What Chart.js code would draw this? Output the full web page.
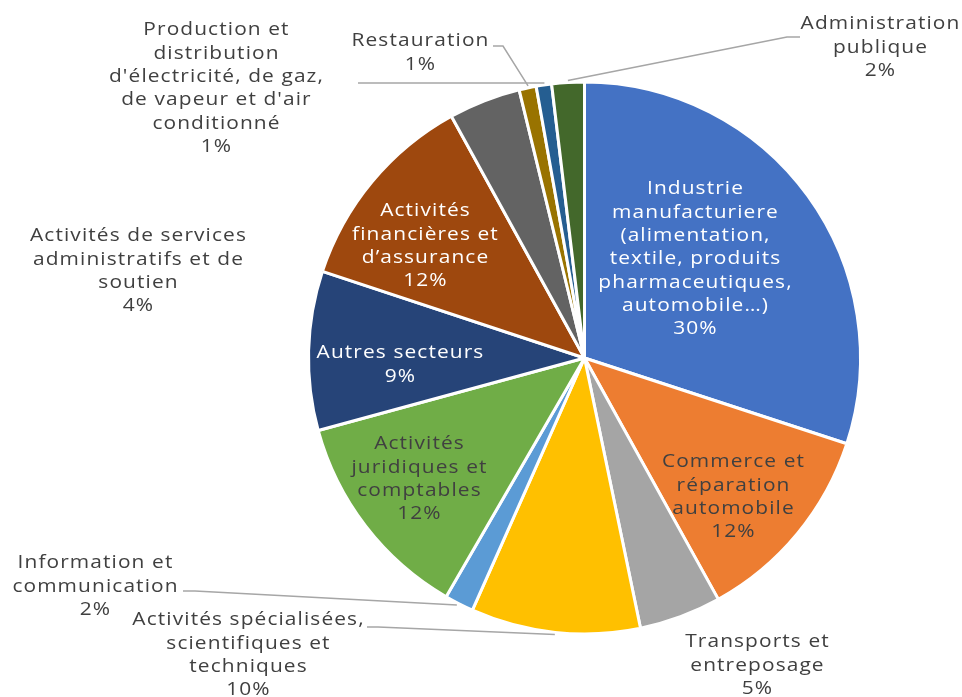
<!DOCTYPE html>
<html>
<head>
<meta charset="utf-8">
<script src="https://cdn.jsdelivr.net/npm/chart.js@4.4.1/dist/chart.umd.min.js"></script>
<style>
  html, body { margin: 0; padding: 0; background: #fff; }
  #wrap { width: 962px; height: 697px; }
</style>
</head>
<body>
<div id="wrap"><canvas id="idGraphiqueSecteurs"></canvas></div>
<script>
// categories, in drawing order (clockwise from 12 o'clock)
const secteurs = [
    'Industrie manufacturiere (alimentation, textile, produits pharmaceutiques, automobile…)',
    'Commerce et réparation automobile',
    'Transports et entreposage',
    'Activités spécialisées, scientifiques et techniques',
    'Information et communication',
    'Activités juridiques et comptables',
    'Autres secteurs',
    'Activités financières et d’assurance',
    'Activités de services administratifs et de soutien',
    "Production et distribution d'électricité, de gaz, de vapeur et d'air conditionné",
    'Restauration',
    'Administration publique'
];
const parts = [30.0, 11.9, 4.8, 9.9, 1.7, 12.4, 9.3, 11.9, 4.2, 1.0, 0.9, 1.9];
const couleurs = ['#4472C4', '#ED7D31', '#A5A5A5', '#FFC000', '#5B9BD5', '#70AD47',
                  '#264478', '#9E480E', '#636363', '#997300', '#255E91', '#43682B'];

// how each label is laid out (text lines, centre x, first line y, leader line)
const etiquettes = [
    { lignes: ['Industrie', 'manufacturiere', '(alimentation,', 'textile, produits', 'pharmaceutiques,', 'automobile…)'], x: 695, y: 189, blanc: true },
    { lignes: ['Commerce et', 'réparation', 'automobile'], x: 733, y: 462 },
    { lignes: ['Transports et', 'entreposage'], x: 757, y: 642 },
    { lignes: ['Activités spécialisées,', 'scientifiques et', 'techniques'], x: 248, y: 620, trait: [[367, 627], [378, 627]], pos: 0.5 },
    { lignes: ['Information et', 'communication'], x: 95, y: 563, trait: [[183, 591], [195, 591]], pos: 0.55 },
    { lignes: ['Activités', 'juridiques et', 'comptables'], x: 419, y: 444 },
    { lignes: ['Autres secteurs'], x: 400, y: 353, blanc: true },
    { lignes: ['Activités', 'financières et', 'd’assurance'], x: 425, y: 211, blanc: true },
    { lignes: ['Activités de services', 'administratifs et de', 'soutien'], x: 138, y: 236 },
    { lignes: ['Production et', 'distribution', "d'électricité, de gaz,", "de vapeur et d'air", 'conditionné'], x: 216, y: 30, trait: [[358, 83], [370, 83]], pos: 1.5 },
    { lignes: ['Restauration'], x: 420, y: 41, trait: [[493, 46], [503, 46]], pos: -0.5 },
    { lignes: ['Administration', 'publique'], x: 880, y: 24, trait: [[800, 37], [787, 37]], pos: 0.5 }
];

const POLICE = '19px "Open Sans", sans-serif';
const INTERLIGNE = 23.3;
const ETIREMENT = 1.1;   // the original font is wider than Open Sans

const pluginEtiquettes = {
    id: 'etiquettes',
    afterDatasetsDraw(chart) {
        const ctx = chart.ctx;
        const meta = chart.getDatasetMeta(0);
        const total = parts.reduce((a, b) => a + b, 0);
        ctx.save();
        meta.data.forEach((arc, i) => {
            const e = etiquettes[i];
            if (e.trait) {
                const a = arc.startAngle + (arc.endAngle - arc.startAngle) * e.pos;
                const r = arc.outerRadius + 2;
                ctx.beginPath();
                ctx.strokeStyle = '#A6A6A6';
                ctx.lineWidth = 1.5;
                ctx.moveTo(e.trait[0][0], e.trait[0][1]);
                for (let k = 1; k < e.trait.length; k++) ctx.lineTo(e.trait[k][0], e.trait[k][1]);
                ctx.lineTo(arc.x + Math.cos(a) * r, arc.y + Math.sin(a) * r);
                ctx.stroke();
            }
            const lignes = e.lignes.concat([Math.round(parts[i] / total * 100) + '%']);
            ctx.font = POLICE;
            ctx.letterSpacing = '1px';
            ctx.fillStyle = e.blanc ? '#FFFFFF' : '#404040';
            ctx.textAlign = 'center';
            ctx.textBaseline = 'middle';
            lignes.forEach((t, k) => {
                ctx.save();
                ctx.translate(e.x + 0.5, e.y + k * INTERLIGNE);
                ctx.scale(ETIREMENT, 1);
                ctx.fillText(t, 0, 0);
                ctx.restore();
            });
        });
        ctx.restore();
    }
};

new Chart(document.getElementById('idGraphiqueSecteurs'), {
    type: 'pie',
    data: {
        labels: secteurs,
        datasets: [{
            data: parts,
            backgroundColor: couleurs,
            borderColor: '#FFFFFF',
            borderWidth: 3
        }]
    },
    options: {
        responsive: true,
        maintainAspectRatio: false,
        animation: false,
        radius: 276,
        layout: { padding: { left: 207, right: 0, top: 19, bottom: 0 } },
        plugins: {
            legend: { display: false },
            tooltip: { enabled: false }
        }
    },
    plugins: [pluginEtiquettes]
});
</script>
</body>
</html>
